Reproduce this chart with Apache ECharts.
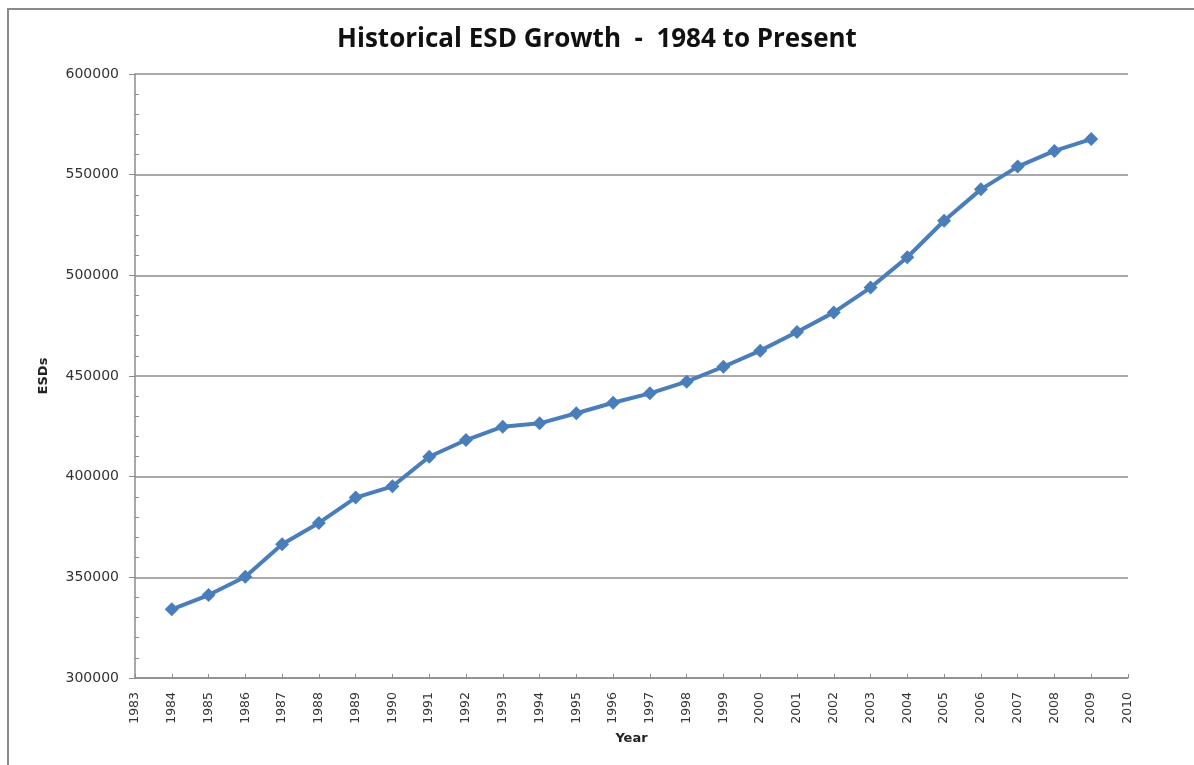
<!DOCTYPE html>
<html>
<head>
<meta charset="utf-8">
<script src="https://cdn.jsdelivr.net/npm/echarts@6/dist/echarts.min.js"></script>
<style>
html,body{margin:0;padding:0;background:#fff;}
#chart{width:1194px;height:765px;}
</style>
</head>
<body>
<div id="chart"></div>
<script>
const years = [1984,1985,1986,1987,1988,1989,1990,1991,1992,1993,1994,1995,1996,1997,1998,1999,2000,2001,2002,2003,2004,2005,2006,2007,2008,2009];
const esds = [334100,341200,350300,366400,377000,389600,395200,409900,418200,424800,426500,431500,436700,441400,447200,454600,462600,471900,481600,493900,509000,527100,542700,554000,561800,567700];
const titleText = 'Historical ESD Growth  -  1984 to Present';
const xName = 'Year';
const yName = 'ESDs';

const chart = echarts.init(document.getElementById('chart'));
const gray = '#8c8c8c';
chart.setOption({
  animation: false,
  backgroundColor: '#fff',
  title: {
    text: titleText, left: 'center', top: 22,
    textStyle: {fontFamily: 'Open Sans', fontWeight: 'bold', fontSize: 26, color: '#111'}
  },
  graphic: [{
    type: 'rect', shape: {x: 8, y: 9, width: 1240, height: 800},
    style: {fill: 'none', stroke: '#8a8a8a', lineWidth: 2}, silent: true
  }],
  grid: {left: 135, right: 66, top: 74, bottom: 87},
  xAxis: {
    type: 'value', min: 1983, max: 2010, interval: 1,
    name: xName, nameLocation: 'middle', nameGap: 50,
    nameTextStyle: {fontFamily: 'DejaVu Sans', fontWeight: 'bold', fontSize: 13, color: '#222'},
    axisLine: {lineStyle: {color: gray, width: 1.5}},
    axisTick: {inside: true, length: 4, lineStyle: {color: gray}},
    axisLabel: {rotate: 90, fontFamily: 'DejaVu Sans', fontSize: 12.5, color: '#333', margin: 14,
      formatter: v => String(v)},
    splitLine: {show: false}
  },
  yAxis: [{
    type: 'value', min: 300000, max: 600000, interval: 50000,
    name: yName, nameLocation: 'middle', nameGap: 85, nameRotate: 90,
    nameTextStyle: {fontFamily: 'DejaVu Sans', fontWeight: 'bold', fontSize: 13, color: '#222'},
    axisLine: {show: true, lineStyle: {color: gray, width: 1.5}},
    axisTick: {show: true, length: 6, lineStyle: {color: gray}},
    axisLabel: {fontFamily: 'DejaVu Sans', fontSize: 14, color: '#333', margin: 16,
      formatter: v => String(v)},
    splitLine: {show: true, lineStyle: {color: gray, width: 1.5}}
  }, {
    type: 'value', min: 300000, max: 600000, interval: 50000, position: 'left',
    axisLine: {show: false},
    axisTick: {show: false, inside: true},
    minorTick: {show: true, splitNumber: 5, length: 4, lineStyle: {color: gray}},
    axisLabel: {show: false},
    splitLine: {show: false}
  }],
  series: [{
    type: 'line',
    data: years.map((y, i) => [y, esds[i]]),
    yAxisIndex: 0,
    symbol: 'diamond', symbolSize: 14,
    lineStyle: {color: '#4A7EBB', width: 4},
    itemStyle: {color: '#4A7EBB'}
  }]
});
</script>
</body>
</html>
